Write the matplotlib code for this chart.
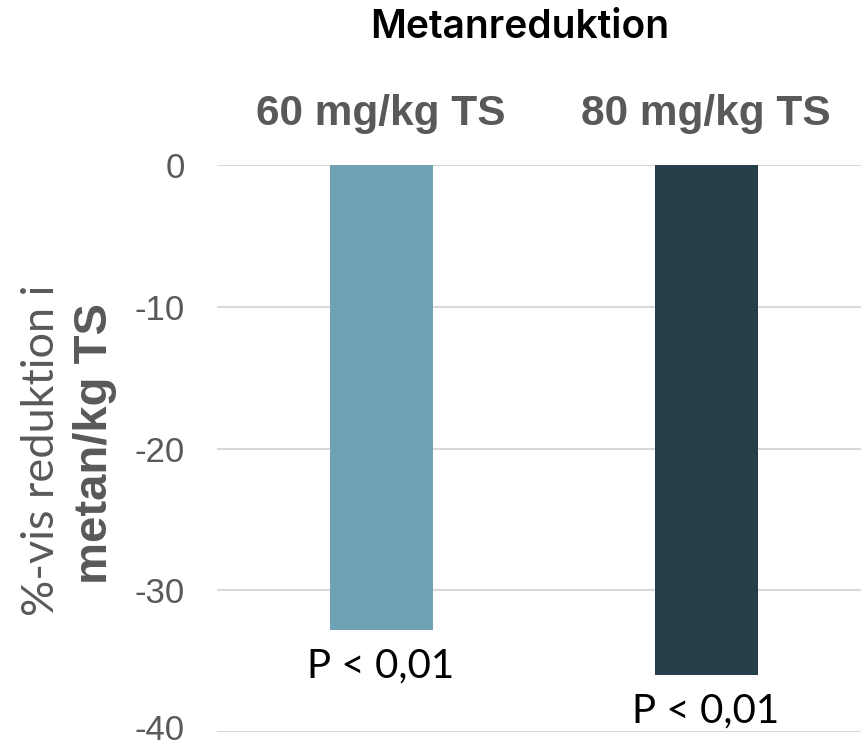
import matplotlib
matplotlib.use("Agg")
import matplotlib.pyplot as plt
import matplotlib.transforms as mtransforms

plt.rcParams["font.family"] = "Liberation Sans"
plt.rcParams["axes.unicode_minus"] = False

# data
doses = ["60 mg/kg TS", "80 mg/kg TS"]
reduction = [-32.8, -36.0]
p_labels = ["P < 0,01", "P < 0,01"]
bar_colors = ["#71A1B5", "#263E4A"]
y_ticks = [0, -10, -20, -30, -40]

grey = "#595959"

fig = plt.figure(figsize=(8.61, 7.46), dpi=100)
ax = fig.add_axes([217 / 861, 14 / 746, 644 / 861, 567 / 746])

x = range(len(doses))
bars = ax.bar(x, reduction, width=0.317, color=bar_colors, zorder=3)

# p-values under each bar
for xi, val, lab in zip(x, reduction, p_labels):
    ax.annotate(lab, (xi, val), xytext=(0, -36), textcoords="offset pixels",
                ha="center", va="center", fontsize=29, family="Lato",
                color="black")

ax.set_xlim(-0.505, 1.477)
ax.set_ylim(-40, 0)
ax.set_yticks(y_ticks)
ax.yaxis.grid(True, color="#D9D9D9", linewidth=1.5, zorder=0)
ax.tick_params(axis="y", length=0, pad=23, labelsize=25, labelcolor=grey)

# keep the lowest tick label inside the figure
low = ax.get_yticklabels()[-1]
low.set_transform(low.get_transform() +
                  mtransforms.ScaledTranslation(0, 5 / 100, fig.dpi_scale_trans))

# dose labels above the bars
ax.set_xticks(list(x))
ax.set_xticklabels(doses, fontsize=30.5, fontweight="bold", color=grey)
ax.xaxis.tick_top()
ax.tick_params(axis="x", length=0, pad=22)

for s in ax.spines.values():
    s.set_visible(False)

# y-axis title in two lines with different weights
fig.text(42 / 861, 1 - 450 / 746, "%-vis reduktion i", rotation=90,
         ha="center", va="center", fontsize=32.5, family="Lato",
         color=grey)
fig.text(95 / 861, 1 - 444 / 746, "metan/kg TS", rotation=90,
         ha="center", va="center", fontsize=34, fontweight="bold", color=grey)

fig.text(520 / 861, 1 - 27 / 746, "Metanreduktion", ha="center", va="center",
         fontsize=28, family="Inter", fontweight="semibold", color="black")

fig.savefig("out.png", dpi=100)
